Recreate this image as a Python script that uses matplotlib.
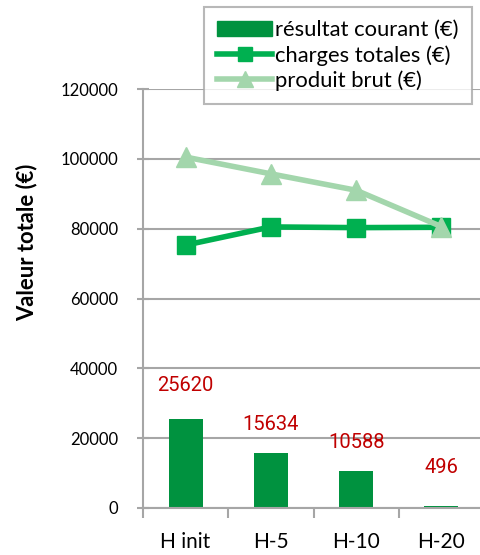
import matplotlib
matplotlib.use("Agg")
import matplotlib.pyplot as plt
from matplotlib.patches import Patch
from matplotlib.lines import Line2D

categories = ["H init", "H-5", "H-10", "H-20"]
resultat = [25620, 15634, 10588, 496]
charges = [75300, 80500, 80300, 80400]
produit = [100500, 95700, 91000, 80600]
yticks = [0, 20000, 40000, 60000, 80000, 100000, 120000]

plt.rcParams['font.family'] = ['Lato', 'DejaVu Sans']

W, H = 480, 555
fig = plt.figure(figsize=(W/100, H/100), dpi=100)
ax = fig.add_axes([143/W, 1-508/H, 341/W, 419/H])

x = list(range(len(categories)))
bar_c = "#00923F"
ch_c = "#00B050"
pr_c = "#A3D6AC"
grid_c = "#A6A6A6"

ax.bar(x, resultat, width=0.4, color=bar_c, zorder=2)
ax.plot(x, charges, color=ch_c, lw=4, marker='s', ms=13, zorder=3)
ax.plot(x, produit, color=pr_c, lw=4, marker='^', ms=15, zorder=4)

label_offsets = [33, 29, 29, 39]
for xi, v, off in zip(x, resultat, label_offsets):
    ax.annotate(str(v), (xi, v), xytext=(0, off), textcoords='offset pixels',
                ha='center', va='center', color='#C00000', fontsize=14.5,
                family=['Roboto', 'DejaVu Sans'], fontstretch='condensed')

ax.set_ylim(0, 120000)
ax.set_xlim(-0.5, 3.5)
ax.set_yticks(yticks)
ax.set_yticklabels([str(t) for t in yticks], fontsize=12)
ax.yaxis.grid(True, color=grid_c, lw=1.5, zorder=0)
ax.set_axisbelow(True)
ax.set_xticks(x)
ax.set_xticklabels(categories, fontsize=15)
ax.set_xticks([-0.5, 0.5, 1.5, 2.5, 3.5], minor=True)
ax.tick_params(axis='x', which='major', length=0, pad=17)
ax.tick_params(axis='x', which='minor', length=7, color=grid_c, width=1.5)
ax.tick_params(axis='y', length=8, direction='inout', color=grid_c, width=1.5, pad=14)
for s in ['top', 'right']:
    ax.spines[s].set_visible(False)
for s in ['left', 'bottom']:
    ax.spines[s].set_color(grid_c)
    ax.spines[s].set_linewidth(1.5)

ax.set_ylabel("Valeur totale (€)", fontsize=15.8, fontweight='bold')
ax.yaxis.set_label_coords((37-143)/341, (508-242)/419)

handles = [Patch(color=bar_c),
           Line2D([], [], color=ch_c, lw=4, marker='s', ms=10),
           Line2D([], [], color=pr_c, lw=4, marker='^', ms=11)]
labels = ["résultat courant (€)", "charges totales (€)", "produit brut (€)"]
leg = fig.legend(handles, labels, loc='upper left', bbox_to_anchor=(204/W, 1-7/H),
                 fontsize=15.8, frameon=True, fancybox=False, handlelength=2.5,
                 handletextpad=0.15, borderpad=0.6, labelspacing=0.22,
                 borderaxespad=0)
leg.get_frame().set_edgecolor(grid_c)
leg.get_frame().set_linewidth(1.5)

fig.savefig("out.png", dpi=100)
